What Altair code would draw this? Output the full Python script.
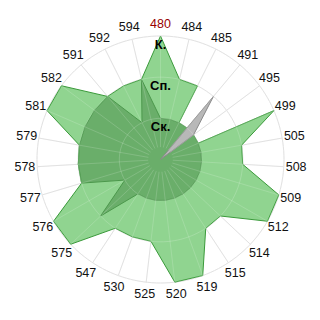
import altair as alt
import pandas as pd

categories = ["480", "484", "485", "491", "495", "499", "505", "508", "509", "512",
              "514", "515", "519", "520", "525", "530", "547", "575", "576", "577",
              "578", "579", "581", "582", "591", "592", "594"]
series_light = [3, 2, 2, 0, 0, 3, 2, 2, 3, 3, 2, 2, 3, 3, 2, 2, 2, 3, 3, 2, 2, 2, 3, 3, 2, 2, 2]
series_dark = [1, 1, 1, 1, 1, 1, 1, 1, 1, 1, 1, 1, 1, 1, 1, 1, 1, 2, 1, 2, 2, 2, 2, 2, 2, 1, 2]
series_gray = [0, 0, 0, 2, 1, 0, 0, 0, 0, 0, 0, 0, 0, 0, 0, 0, 0, 0, 0, 0, 0, 0, 0, 0, 0, 0, 0]
levels = [1, 2, 3]
level_labels = ["Ск.", "Сп.", "К."]
highlight = "480"

N = len(categories)
FONT = "Liberation Sans"

cat_df = pd.DataFrame({"cat": categories, "i": list(range(N))})
lvl_df = pd.DataFrame({"level": levels, "label": level_labels})

rows = []
for name, vals in [("light", series_light), ("dark", series_dark), ("gray", series_gray)]:
    for k in range(N + 1):
        rows.append({"series": name, "k": k, "value": vals[k % N]})
poly_df = pd.DataFrame(rows)

px_per_unit = 41.17
cx, cy = 160.5, 159.5
xs = alt.Scale(domain=[-cx / px_per_unit, (320 - cx) / px_per_unit], nice=False, zero=False)
ys = alt.Scale(domain=[-(320 - cy) / px_per_unit, cy / px_per_unit], nice=False, zero=False)


def X(f):
    return alt.X(f, scale=xs, axis=None)


def Y(f):
    return alt.Y(f, scale=ys, axis=None)


def circles(color, opacity):
    return alt.Chart(lvl_df).transform_calculate(
        deg="sequence(0, 362, 2)"
    ).transform_flatten(["deg"]).transform_calculate(
        gx="datum.level*sin(datum.deg*PI/180)",
        gy="datum.level*cos(datum.deg*PI/180)",
    ).mark_line(stroke=color, strokeWidth=1, opacity=opacity).encode(
        x=X("gx:Q"), y=Y("gy:Q"), detail="level:N", order="deg:Q"
    )


def spokes(color, opacity, r0):
    return alt.Chart(cat_df).transform_calculate(
        th=f"datum.i*2*PI/{N}",
        x0=f"{r0}*sin(datum.th)", y0=f"{r0}*cos(datum.th)",
        x1="3*sin(datum.th)", y1="3*cos(datum.th)",
    ).mark_rule(stroke=color, strokeWidth=1, opacity=opacity).encode(
        x=X("x0:Q"), y=Y("y0:Q"), x2="x1:Q", y2="y1:Q"
    )


def poly(name, fill, stroke, sw):
    return alt.Chart(poly_df).transform_filter(
        alt.datum.series == name
    ).transform_calculate(
        th=f"datum.k*2*PI/{N}",
        px="datum.value*sin(datum.th)",
        py="datum.value*cos(datum.th)",
    ).mark_line(fill=fill, stroke=stroke, strokeWidth=sw, strokeJoin="miter").encode(
        x=X("px:Q"), y=Y("py:Q"), order="k:Q"
    )


cat_labels = alt.Chart(cat_df).transform_calculate(
    th=f"datum.i*2*PI/{N}",
    lx="3.3*sin(datum.th)",
    ly="3.3*cos(datum.th)",
).mark_text(font=FONT, fontSize=12.5, align="center", baseline="middle").encode(
    x=X("lx:Q"), y=Y("ly:Q"), text="cat:N",
    color=alt.condition(alt.datum.cat == highlight, alt.value("#990000"), alt.value("#111111")),
)

lvl_text = alt.Chart(lvl_df).transform_calculate(zx="0").mark_text(
    font=FONT, fontSize=13, fontWeight="bold", align="center", baseline="top", dy=3, color="#000000"
).encode(x=X("zx:Q"), y=Y("level:Q"), text="label:N")

chart = alt.layer(
    circles("#dcdcdc", 1),
    spokes("#dcdcdc", 1, 0),
    poly("light", "#90d490", "#3a9a3a", 1),
    poly("dark", "#6aae6a", "#4c984c", 1),
    poly("gray", "#b8b8b8", "#8a8a8a", 1),
    circles("#ffffff", 0.18),
    spokes("#ffffff", 0.16, 0.3),
    cat_labels,
    lvl_text,
).properties(
    width=320, height=320, padding=0, autosize=alt.AutoSizeParams(type="none")
).configure_view(stroke=None)

chart.save("out.html", embed_options={"renderer": "svg", "actions": False})
